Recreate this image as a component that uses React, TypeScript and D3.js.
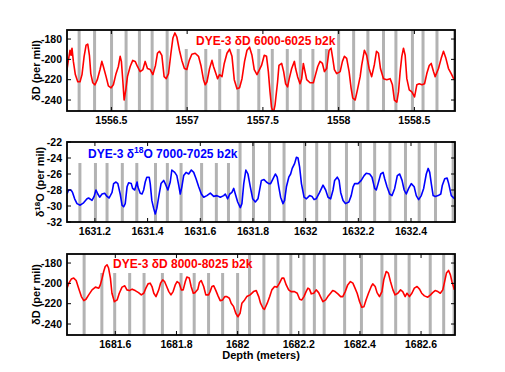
import * as d3 from 'd3';

// DYE-3 dD 6000-6025 b2k
const depthA = [
  1556.205, 1556.216, 1556.227, 1556.234, 1556.24, 1556.249, 1556.262, 1556.278, 1556.293, 1556.306,
  1556.32, 1556.333, 1556.344, 1556.355, 1556.364, 1556.377, 1556.392, 1556.407, 1556.425, 1556.437,
  1556.447, 1556.465, 1556.48, 1556.498, 1556.513, 1556.529, 1556.546, 1556.558, 1556.566, 1556.575,
  1556.584, 1556.595, 1556.606, 1556.624, 1556.641, 1556.657, 1556.672, 1556.69, 1556.708, 1556.723,
  1556.738, 1556.756, 1556.774, 1556.791, 1556.804, 1556.817, 1556.833, 1556.848, 1556.862, 1556.877,
  1556.893, 1556.906, 1556.919, 1556.932, 1556.949, 1556.965, 1556.982, 1556.998, 1557.014, 1557.031,
  1557.053, 1557.075, 1557.091, 1557.108, 1557.119, 1557.131, 1557.148, 1557.164, 1557.174, 1557.192,
  1557.201, 1557.214, 1557.23, 1557.245, 1557.263, 1557.28, 1557.296, 1557.311, 1557.329, 1557.346,
  1557.362, 1557.379, 1557.395, 1557.412, 1557.428, 1557.443, 1557.461,
  1557.491, 1557.509, 1557.524, 1557.536, 1557.547, 1557.557, 1557.569, 1557.58, 1557.597, 1557.606,
  1557.624, 1557.637, 1557.65, 1557.663, 1557.674, 1557.69, 1557.708, 1557.716, 1557.729, 1557.745,
  1557.756, 1557.767, 1557.778, 1557.789, 1557.811, 1557.833, 1557.844, 1557.862, 1557.877, 1557.893,
  1557.906, 1557.921, 1557.937, 1557.95, 1557.961, 1557.972, 1557.987, 1558.01, 1558.025, 1558.038,
  1558.053, 1558.069, 1558.082, 1558.093, 1558.109, 1558.124, 1558.142, 1558.152, 1558.17, 1558.185,
  1558.201, 1558.218, 1558.236, 1558.25, 1558.263, 1558.276, 1558.296, 1558.318, 1558.34, 1558.355,
  1558.368, 1558.384, 1558.395, 1558.406, 1558.417, 1558.428, 1558.439, 1558.45, 1558.466, 1558.483,
  1558.501, 1558.516, 1558.532, 1558.55, 1558.567, 1558.582, 1558.598, 1558.611, 1558.626, 1558.637,
  1558.659, 1558.677, 1558.692, 1558.708, 1558.725, 1558.743, 1558.759, 1558.774,
];
const dDA = [
  -212, -201, -191, -196, -189, -202, -215, -222, -222, -215,
  -197, -186, -185, -196, -214, -223, -225, -220, -210, -202,
  -207, -217, -226, -228, -225, -215, -207, -197, -202, -220,
  -240, -230, -217, -207, -201, -202, -207, -212, -210, -202,
  -209, -210, -215, -206, -194, -192, -196, -217, -219, -214,
  -194, -179, -174, -178, -191, -201, -209, -210, -201, -195,
  -194, -197, -206, -220, -225, -222, -209, -201, -207, -215,
  -219, -215, -217, -204, -194, -190, -197, -220, -229, -228,
  -219, -202, -191, -188, -196, -210, -215,
  -206, -196, -197, -212, -232, -247, -253, -245, -222, -206,
  -204, -212, -224, -227, -219, -209, -202, -209, -217, -224,
  -219, -204, -212, -220, -223, -223, -217, -207, -202, -204,
  -212, -209, -191, -189, -199, -210, -214, -212, -202, -197,
  -199, -212, -228, -238, -240, -230, -217, -206, -191, -196,
  -209, -217, -205, -192, -194, -209, -219, -220, -219, -225,
  -240, -242, -232, -212, -197, -189, -196, -219, -230, -232,
  -237, -225, -224, -225, -224, -214, -206, -204, -212, -217,
  -209, -199, -192, -199, -209, -214, -219, -220,
];
const barsA = [
  1556.287, 1556.389, 1556.501, 1556.597, 1556.685, 1556.769, 1556.868, 1556.994, 1557.123, 1557.215,
  1557.337, 1557.473, 1557.562, 1557.661, 1557.747, 1557.83, 1557.919, 1558.0, 1558.099, 1558.193,
  1558.296, 1558.378, 1558.487, 1558.557, 1558.649, 1558.765,
];
const xTicksA = [1556.5, 1557, 1557.5, 1558, 1558.5];
const yTicksD = [-180, -200, -220, -240];

// DYE-3 d18O 7000-7025 b2k
const depthB = [
  1631.094, 1631.1, 1631.109, 1631.115, 1631.123, 1631.132, 1631.144, 1631.157, 1631.17, 1631.176,
  1631.189, 1631.197, 1631.204, 1631.211, 1631.218, 1631.227, 1631.237, 1631.246, 1631.254, 1631.265,
  1631.271, 1631.28, 1631.287, 1631.296, 1631.303, 1631.309, 1631.315, 1631.322, 1631.328, 1631.338,
  1631.343, 1631.351, 1631.36, 1631.363, 1631.372, 1631.379, 1631.385, 1631.391, 1631.397, 1631.406,
  1631.41, 1631.416, 1631.423, 1631.429, 1631.435, 1631.442, 1631.451, 1631.461, 1631.467, 1631.477,
  1631.486, 1631.492, 1631.503, 1631.511, 1631.518, 1631.524, 1631.53, 1631.537, 1631.546, 1631.556,
  1631.566, 1631.575, 1631.584, 1631.594, 1631.604, 1631.613, 1631.625, 1631.638, 1631.651, 1631.663,
  1631.676, 1631.689, 1631.695, 1631.704, 1631.712, 1631.72, 1631.727, 1631.733, 1631.742, 1631.752,
  1631.758, 1631.765, 1631.773, 1631.781, 1631.79, 1631.799, 1631.809, 1631.819, 1631.832, 1631.842,
  1631.851, 1631.86, 1631.867, 1631.876, 1631.885, 1631.892, 1631.898, 1631.905, 1631.914, 1631.92,
  1631.927, 1631.936, 1631.943, 1631.949, 1631.958, 1631.965, 1631.971, 1631.977, 1631.984, 1631.994,
  1632.003, 1632.015, 1632.024, 1632.032, 1632.04, 1632.053, 1632.066, 1632.076, 1632.085, 1632.095,
  1632.104, 1632.11, 1632.12, 1632.127, 1632.133, 1632.142, 1632.151, 1632.164, 1632.173, 1632.18,
  1632.186, 1632.199, 1632.211, 1632.222, 1632.23, 1632.243, 1632.252, 1632.262, 1632.268, 1632.275,
  1632.285, 1632.294, 1632.3, 1632.309, 1632.319, 1632.328, 1632.338, 1632.348, 1632.357, 1632.366,
  1632.374, 1632.382, 1632.391, 1632.401, 1632.412, 1632.42, 1632.429, 1632.439, 1632.448, 1632.458,
  1632.465, 1632.471, 1632.477, 1632.484, 1632.492, 1632.503, 1632.513, 1632.519, 1632.528, 1632.537,
  1632.543, 1632.553, 1632.566,
];
const d18OB = [
  -28.5, -28.0, -28.0, -28.3, -29.1, -29.7, -29.9, -29.6, -29.1, -29.0,
  -29.3, -28.8, -28.0, -28.5, -28.9, -28.5, -28.4, -28.8, -29.0, -28.3,
  -27.2, -27.0, -27.2, -28.5, -29.9, -30.1, -29.7, -27.6, -27.1, -27.2,
  -27.8, -28.0, -27.0, -27.6, -28.4, -28.5, -28.0, -27.0, -26.4, -26.4,
  -27.2, -29.3, -30.3, -31.0, -30.3, -28.9, -27.2, -26.8, -27.2, -28.0,
  -27.0, -25.5, -25.8, -26.2, -27.4, -28.5, -27.6, -26.2, -25.8, -26.0,
  -25.5, -25.8, -26.6, -27.6, -28.5, -28.9, -28.7, -28.4, -28.8, -28.7,
  -28.9, -28.7, -28.5, -29.1, -28.5, -28.3, -27.8, -28.5, -29.5, -30.2,
  -29.7, -27.2, -25.5, -26.0, -27.6, -29.1, -29.5, -29.1, -26.8, -26.7,
  -27.0, -27.2, -27.2, -26.6, -26.0, -26.4, -27.6, -28.9, -29.7, -29.3,
  -27.6, -26.4, -26.0, -25.3, -24.7, -23.9, -24.0, -25.1, -27.2, -28.9,
  -29.1, -28.7, -28.8, -29.2, -29.1, -28.3, -27.4, -28.0, -28.9, -29.1,
  -28.0, -26.8, -26.4, -26.8, -28.3, -29.3, -29.7, -29.5, -28.7, -27.6,
  -27.2, -27.2, -26.8, -26.2, -25.9, -26.0, -26.4, -27.8, -28.0, -27.2,
  -26.0, -25.8, -26.6, -27.6, -28.5, -28.7, -27.8, -26.2, -26.0, -26.8,
  -28.0, -28.5, -27.8, -27.2, -27.6, -28.7, -29.2, -28.7, -27.8, -26.0,
  -25.3, -25.8, -27.2, -28.7, -28.8, -28.7, -28.5, -27.4, -26.6, -26.5,
  -27.2, -28.7, -29.1,
];
const barsB = [
  1631.143, 1631.202, 1631.246, 1631.304, 1631.359, 1631.43, 1631.475, 1631.527, 1631.605, 1631.661,
  1631.707, 1631.751, 1631.802, 1631.863, 1631.918, 1631.996, 1632.042, 1632.091, 1632.155, 1632.208,
  1632.262, 1632.32, 1632.379, 1632.431, 1632.493, 1632.56,
];
const xTicksB = [1631.2, 1631.4, 1631.6, 1631.8, 1632, 1632.2, 1632.4];
const yTicksO = [-22, -24, -26, -28, -30, -32];

// DYE-3 dD 8000-8025 b2k
const depthC = [
  1681.442, 1681.448, 1681.456, 1681.464, 1681.472, 1681.48, 1681.489, 1681.497, 1681.504, 1681.513,
  1681.524, 1681.535, 1681.546, 1681.551, 1681.557, 1681.562, 1681.567, 1681.573, 1681.578, 1681.584,
  1681.589, 1681.597, 1681.606, 1681.613, 1681.622, 1681.631, 1681.638, 1681.646, 1681.655, 1681.665,
  1681.676, 1681.685, 1681.693, 1681.7, 1681.707, 1681.714, 1681.72, 1681.726, 1681.733, 1681.742,
  1681.748, 1681.755, 1681.761, 1681.768, 1681.775, 1681.782, 1681.789, 1681.796, 1681.802, 1681.809,
  1681.816, 1681.822, 1681.829, 1681.834, 1681.842, 1681.848, 1681.855, 1681.861, 1681.87, 1681.875,
  1681.881, 1681.889, 1681.896, 1681.905, 1681.91, 1681.916, 1681.922, 1681.929, 1681.936, 1681.943,
  1681.951, 1681.958, 1681.965, 1681.973, 1681.979, 1681.987, 1681.994, 1682.001, 1682.008, 1682.014,
  1682.023, 1682.03, 1682.041, 1682.052, 1682.061, 1682.069, 1682.075, 1682.083, 1682.088, 1682.097,
  1682.105, 1682.112, 1682.121, 1682.129, 1682.137, 1682.145, 1682.151, 1682.159, 1682.167, 1682.175,
  1682.186, 1682.195, 1682.203, 1682.21, 1682.217, 1682.224, 1682.23, 1682.235, 1682.241, 1682.249,
  1682.257, 1682.265, 1682.271, 1682.279, 1682.288, 1682.295, 1682.304, 1682.311, 1682.319, 1682.328,
  1682.337, 1682.344, 1682.352, 1682.36, 1682.369, 1682.377, 1682.384, 1682.391, 1682.399, 1682.406,
  1682.413, 1682.42, 1682.428, 1682.437, 1682.442, 1682.45, 1682.456, 1682.464, 1682.472, 1682.478,
  1682.486, 1682.493, 1682.5, 1682.508, 1682.515, 1682.524, 1682.533, 1682.54, 1682.548, 1682.554,
  1682.562, 1682.57, 1682.578, 1682.587, 1682.595, 1682.602, 1682.611, 1682.622, 1682.631, 1682.638,
  1682.646, 1682.655, 1682.663, 1682.671, 1682.676, 1682.683, 1682.69, 1682.696, 1682.701, 1682.709,
];
const dDC = [
  -204.7, -199.8, -195.8, -194.8, -197.2, -204.7, -213.0, -217.0, -215.6, -211.3,
  -206.4, -203.7, -204.7, -201.5, -194.8, -188.3, -183.4, -181.7, -184.9, -194.8,
  -209.7, -218.0, -216.3, -209.7, -203.7, -202.4, -206.4, -207.1, -205.7, -207.1,
  -209.1, -211.3, -209.7, -204.7, -200.5, -199.8, -203.1, -209.7, -213.0, -206.4,
  -199.8, -196.5, -198.2, -203.1, -208.1, -211.3, -208.1, -201.5, -198.2, -199.8,
  -206.4, -206.4, -198.2, -193.8, -194.8, -203.1, -209.7, -209.1, -205.7, -199.2,
  -197.2, -203.1, -211.3, -211.3, -208.1, -203.1, -202.4, -207.1, -212.3, -217.0,
  -216.3, -213.0, -213.0, -214.6, -219.5, -222.9, -229.4, -232.8, -229.4, -219.5,
  -216.3, -213.0, -211.3, -208.1, -207.1, -213.0, -219.5, -224.5, -225.5, -219.5,
  -213.0, -206.4, -203.1, -203.7, -199.8, -194.8, -194.8, -201.5, -206.4, -208.1,
  -208.1, -209.7, -215.6, -216.3, -213.0, -208.1, -204.7, -205.7, -210.3, -209.7,
  -206.4, -209.1, -213.0, -218.0, -216.3, -213.0, -209.7, -207.1, -208.1, -210.3,
  -213.0, -213.0, -208.1, -201.5, -198.2, -199.8, -204.7, -209.7, -218.0, -223.5,
  -222.9, -216.3, -209.7, -203.1, -200.5, -203.1, -209.1, -213.0, -208.1, -196.5,
  -188.3, -189.9, -198.2, -206.4, -211.3, -209.7, -206.4, -208.1, -213.0, -209.7,
  -213.0, -209.7, -204.7, -203.1, -205.7, -209.7, -212.3, -213.6, -211.3, -209.1,
  -207.1, -208.1, -209.7, -206.4, -199.8, -189.9, -187.3, -191.6, -198.2, -206.4,
];
const barsC = [
  1681.498, 1681.556, 1681.598, 1681.647, 1681.694, 1681.754, 1681.815, 1681.858, 1681.905, 1681.951,
  1682.0, 1682.039, 1682.086, 1682.132, 1682.174, 1682.217, 1682.251, 1682.283, 1682.35, 1682.405,
  1682.472, 1682.517, 1682.561, 1682.63, 1682.674, 1682.708,
];
const xTicksC = [1681.6, 1681.8, 1682, 1682.2, 1682.4, 1682.6];

const FONT = '"Liberation Sans", Arial, Helvetica, sans-serif';
const LEFT = 67;
const RIGHT = 455;

function Panel({ id, depth, values, bars, xDomain, yDomain, xTicks, yTicks, top, bottom, color, box, title, ylabel, ylabelX }) {
  const x = d3.scaleLinear(xDomain, [LEFT, RIGHT]);
  const y = d3.scaleLinear(yDomain, [bottom, top]);
  const pts = depth.map((d, i) => [d, values[i]]).filter((p) => p[1] !== undefined);
  const line = d3.line().x((d) => x(d[0])).y((d) => y(d[1]));
  const tick = 4;

  return (
    <g>
      <defs>
        <clipPath id={id}>
          <rect x={LEFT} y={top} width={RIGHT - LEFT} height={bottom - top} />
        </clipPath>
      </defs>
      <g clipPath={`url(#${id})`}>
        {bars.map((b, i) => (
          <rect key={i} x={x(b) - 1.5} y={top} width={3} height={bottom - top} fill="#b3b3b3" />
        ))}
        <rect x={box[0]} y={top} width={box[1] - box[0]} height={box[2] - top} fill="#fff" />
        <path d={line(pts)} fill="none" stroke={color} strokeWidth={1.6} strokeLinejoin="round" />
      </g>
      <rect x={LEFT} y={top} width={RIGHT - LEFT} height={bottom - top} fill="none" stroke="#000" strokeWidth={1.8} />
      {xTicks.map((t) => (
        <g key={t}>
          <line x1={x(t)} x2={x(t)} y1={bottom} y2={bottom - tick} stroke="#000" strokeWidth={1} />
          <line x1={x(t)} x2={x(t)} y1={top} y2={top + tick} stroke="#000" strokeWidth={1} />
          <text x={x(t)} y={bottom + 13} textAnchor="middle" fontSize={10.5} fontWeight="bold" fontFamily={FONT}>
            {String(t)}
          </text>
        </g>
      ))}
      {yTicks.map((t) => (
        <g key={t}>
          <line x1={LEFT} x2={LEFT + tick} y1={y(t)} y2={y(t)} stroke="#000" strokeWidth={1} />
          <line x1={RIGHT} x2={RIGHT - tick} y1={y(t)} y2={y(t)} stroke="#000" strokeWidth={1} />
          <text x={LEFT - 5} y={y(t)} dy="0.35em" textAnchor="end" fontSize={10.5} fontWeight="bold" fontFamily={FONT}>
            {String(t)}
          </text>
        </g>
      ))}
      {title}
      <text
        transform={`translate(${ylabelX},${(top + bottom) / 2}) rotate(-90)`}
        textAnchor="middle"
        fontSize={11}
        fontWeight="bold"
        fontFamily={FONT}
      >
        {ylabel}
      </text>
    </g>
  );
}

export default function App() {
  return (
    <svg width={505} height={372} style={{ position: 'absolute', left: 0, top: 0, background: '#fff' }}>
      <rect width={505} height={372} fill="#fff" />
      <Panel
        id="clipA"
        depth={depthA}
        values={dDA}
        bars={barsA}
        xDomain={[1556.207, 1558.768]}
        yDomain={[-250.8, -171.1]}
        xTicks={xTicksA}
        yTicks={yTicksD}
        top={30}
        bottom={111}
        color="#ff0000"
        box={[178, 334, 49]}
        ylabelX={40}
        ylabel={<tspan>δD (per mil)</tspan>}
        title={
          <text x={196} y={45} fontSize={12} fontWeight="bold" fontFamily={FONT} fill="#ff0000">
            DYE-3 δD 6000-6025 b2k
          </text>
        }
      />
      <Panel
        id="clipB"
        depth={depthB}
        values={d18OB}
        bars={barsB}
        xDomain={[1631.094, 1632.567]}
        yDomain={[-32, -22]}
        xTicks={xTicksB}
        yTicks={yTicksO}
        top={142}
        bottom={222}
        color="#0000ff"
        box={[67, 238, 163]}
        ylabelX={44}
        ylabel={
          <>
            <tspan>δ</tspan>
            <tspan fontSize={8} dy={-4}>18</tspan>
            <tspan dy={4}>O (per mil)</tspan>
          </>
        }
        title={
          <text x={88} y={158} fontSize={12} fontWeight="bold" fontFamily={FONT} fill="#0000ff">
            <tspan>DYE-3 δ</tspan>
            <tspan fontSize={8.5} dy={-5}>18</tspan>
            <tspan dy={5}>O 7000-7025 b2k</tspan>
          </text>
        }
      />
      <Panel
        id="clipC"
        depth={depthC}
        values={dDC}
        bars={barsC}
        xDomain={[1681.442, 1682.711]}
        yDomain={[-250.8, -171.1]}
        xTicks={xTicksC}
        yTicks={yTicksD}
        top={254}
        bottom={335}
        color="#ff0000"
        box={[92, 246, 273]}
        ylabelX={40}
        ylabel={<tspan>δD (per mil)</tspan>}
        title={
          <text x={113} y={268} fontSize={12} fontWeight="bold" fontFamily={FONT} fill="#ff0000">
            DYE-3 δD 8000-8025 b2k
          </text>
        }
      />
      <text x={261} y={359} textAnchor="middle" fontSize={11} fontWeight="bold" fontFamily={FONT}>
        Depth (meters)
      </text>
    </svg>
  );
}
